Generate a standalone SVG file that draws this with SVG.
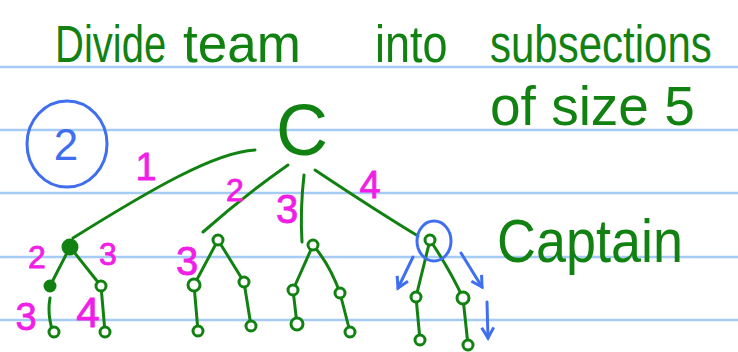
<svg xmlns="http://www.w3.org/2000/svg" width="738" height="352" viewBox="0 0 738 352">
<style>
.rule{stroke:#a6cbf4;stroke-width:2.5}
.g{fill:#118211;font-family:"Liberation Sans",Arial,sans-serif}
.m{fill:#f01ee6;stroke:#f01ee6;stroke-width:0.8;font-family:"Liberation Sans",Arial,sans-serif}
.b{fill:#3f6ff0;font-family:"Liberation Sans",Arial,sans-serif}
.e{stroke:#118211;stroke-width:3;fill:none;stroke-linecap:round}
.n{stroke:#118211;stroke-width:3;fill:#fff}
.nf{stroke:#118211;stroke-width:3;fill:#118211}
.bl{stroke:#3f6ff0;stroke-width:3;fill:none;stroke-linecap:round;stroke-linejoin:round}
</style>
<defs>
<marker id="ah" viewBox="0 0 10 10" refX="8" refY="5" markerWidth="5" markerHeight="5" orient="auto"><path d="M1,1 L8,5 L1,9" fill="none" stroke="#3f6ff0" stroke-width="2"/></marker>
</defs>
<rect width="738" height="352" fill="#fff"/>
<g id="rules">
<line class="rule" x1="0" y1="67" x2="738" y2="67"/>
<line class="rule" x1="0" y1="130" x2="738" y2="130"/>
<line class="rule" x1="0" y1="193" x2="738" y2="193"/>
<line class="rule" x1="0" y1="257" x2="738" y2="257"/>
<line class="rule" x1="0" y1="320" x2="738" y2="320"/>
</g>
<g id="title">
<text class="g" transform="translate(55,62) scale(1,1.3)" font-size="40">Divide</text>
<text class="g" transform="translate(183,62) scale(1,1.0)" font-size="53">team</text>
<text class="g" transform="translate(375,62) scale(1,1.15)" font-size="45">into</text>
<text class="g" transform="translate(490,62) scale(1,1.24)" font-size="42">subsections</text>
<text class="g" transform="translate(490,125)" font-size="55">of size 5</text>
</g>
<g id="step">
<ellipse cx="67" cy="144" rx="40" ry="43" fill="none" stroke="#3f6ff0" stroke-width="3"/>
<text class="b" x="66" y="160" font-size="44" text-anchor="middle">2</text>
</g>
<g id="connectors">
<path class="e" d="M255,150 C215,152 150,190 73,238"/>
<path class="e" d="M288,165 Q245,195 203,232"/>
<path class="e" d="M304,175 Q300,210 302,242"/>
<path class="e" d="M315,170 Q375,210 418,236"/>
<path class="e" d="M70,247 L50,286 M70,247 L101,286 M50,298 Q47,315 53,332 M101,286 L105,332"/>
<path class="e" d="M218,240 L194,285 M218,240 L244,282 M194,285 L198,331 M244,282 L251,326"/>
<path class="e" d="M313,245 L293,290 M313,245 Q330,265 340,293 M293,290 L297,324 M340,293 L350,332"/>
<path class="e" d="M430,240 L416,297 M430,240 Q450,270 463,298 M416,297 L420,340 M463,298 L468,345"/>
</g>
<g id="nodeC"><text class="g" x="302" y="155" font-size="72" text-anchor="middle">C</text></g>
<g id="t1-root"><circle class="nf" cx="70" cy="247" r="7"/></g>
<g id="t1-l"><circle class="nf" cx="50" cy="286" r="5"/></g>
<g id="t1-r"><circle class="n" cx="101" cy="286" r="5"/></g>
<g id="t1-ll"><circle class="n" cx="54" cy="332" r="5"/></g>
<g id="t1-rr"><circle class="n" cx="105" cy="332" r="5"/></g>
<g id="t2-root"><circle class="n" cx="218" cy="240" r="5"/></g>
<g id="t2-l"><circle class="n" cx="194" cy="285" r="6"/></g>
<g id="t2-r"><circle class="n" cx="244" cy="282" r="5"/></g>
<g id="t2-ll"><circle class="n" cx="198" cy="331" r="5"/></g>
<g id="t2-rr"><circle class="n" cx="251" cy="326" r="5"/></g>
<g id="t3-root"><circle class="n" cx="313" cy="245" r="5"/></g>
<g id="t3-l"><circle class="n" cx="293" cy="290" r="5"/></g>
<g id="t3-r"><circle class="n" cx="340" cy="293" r="5"/></g>
<g id="t3-ll"><circle class="n" cx="297" cy="324" r="6"/></g>
<g id="t3-rr"><circle class="n" cx="350" cy="332" r="5"/></g>
<g id="t4-root"><circle class="n" cx="430" cy="240" r="5"/><ellipse cx="434" cy="241" rx="17" ry="20" fill="none" stroke="#3f6ff0" stroke-width="3"/></g>
<g id="t4-l"><circle class="n" cx="416" cy="297" r="5"/></g>
<g id="t4-r"><circle class="n" cx="463" cy="298" r="6"/></g>
<g id="t4-ll"><circle class="n" cx="420" cy="340" r="5"/></g>
<g id="t4-rr"><circle class="n" cx="468" cy="345" r="5"/></g>
<g id="labels">
<text class="m" x="146" y="180" font-size="38" text-anchor="middle">1</text>
<text class="m" x="235" y="201" font-size="32" text-anchor="middle">2</text>
<text class="m" x="287" y="223" font-size="40" text-anchor="middle">3</text>
<text class="m" x="370" y="198" font-size="38" text-anchor="middle">4</text>
<text class="m" x="37" y="268" font-size="32" text-anchor="middle">2</text>
<text class="m" x="108" y="265" font-size="32" text-anchor="middle">3</text>
<text class="m" x="26" y="330" font-size="38" text-anchor="middle">3</text>
<text class="m" x="88" y="327" font-size="42" text-anchor="middle">4</text>
<text class="m" x="187" y="275" font-size="40" text-anchor="middle">3</text>
</g>
<g id="captain-arrows">
<path class="bl" d="M413,257 L398,288" marker-end="url(#ah)"/>
<path class="bl" d="M461,253 L482,287" marker-end="url(#ah)"/>
<path class="bl" d="M487,302 L488,338" marker-end="url(#ah)"/>
</g>
<g id="captain"><text class="g" transform="translate(497,262) scale(1,1.12)" font-size="54">Captain</text></g>
</svg>
